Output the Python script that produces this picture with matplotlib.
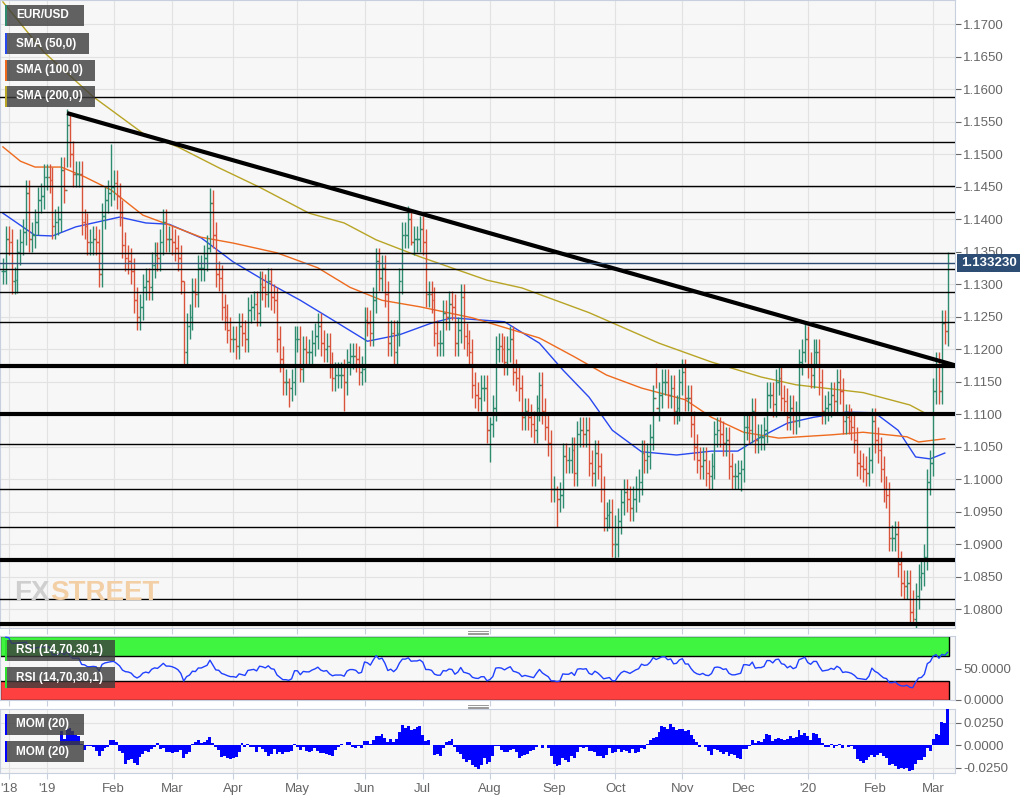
import matplotlib
matplotlib.use("Agg")
import matplotlib.pyplot as plt
from matplotlib.patches import Rectangle
import numpy as np
import pandas as pd

plt.rcParams["font.family"] = ["Liberation Sans", "DejaVu Sans"]

# daily closes
close_2018_12 = [1.1320, 1.1370, 1.1365, 1.1305, 1.1307, 1.1350, 1.1365, 1.1380, 1.1440, 1.1370,
                 1.1375, 1.1395, 1.1430, 1.1435, 1.1465]
close_2019_01 = [1.1465, 1.1460, 1.1390, 1.1395, 1.1400, 1.1475, 1.1445, 1.1545, 1.1500, 1.1470,
                 1.1470, 1.1470, 1.1395, 1.1390, 1.1365, 1.1365, 1.1370, 1.1365, 1.1315, 1.1405,
                 1.1430, 1.1440, 1.1450]
close_2019_02 = [1.1455, 1.1435, 1.1410, 1.1360, 1.1340, 1.1335, 1.1320, 1.1275, 1.1250, 1.1265,
                 1.1295, 1.1305, 1.1295, 1.1330, 1.1345, 1.1340, 1.1365, 1.1395, 1.1370, 1.1370]
close_2019_03 = [1.1365, 1.1355, 1.1340, 1.1305, 1.1195, 1.1235, 1.1250, 1.1290, 1.1285, 1.1325,
                 1.1325, 1.1340, 1.1355, 1.1425, 1.1375, 1.1315, 1.1310, 1.1265, 1.1250, 1.1230,
                 1.1215]
close_2019_04 = [1.1215, 1.1205, 1.1235, 1.1225, 1.1215, 1.1260, 1.1265, 1.1270, 1.1255, 1.1300,
                 1.1295, 1.1285, 1.1305, 1.1280, 1.1275, 1.1215, 1.1185, 1.1150, 1.1150, 1.1140,
                 1.1150, 1.1215]
close_2019_05 = [1.1215, 1.1170, 1.1200, 1.1195, 1.1195, 1.1210, 1.1220, 1.1235, 1.1210, 1.1200,
                 1.1205, 1.1175, 1.1155, 1.1160, 1.1160, 1.1160, 1.1150, 1.1180, 1.1190, 1.1190,
                 1.1185, 1.1165, 1.1170]
close_2019_06 = [1.1245, 1.1240, 1.1225, 1.1275, 1.1335, 1.1310, 1.1325, 1.1285, 1.1210, 1.1225,
                 1.1195, 1.1225, 1.1305, 1.1375, 1.1375, 1.1400, 1.1365, 1.1370, 1.1370, 1.1385]
close_2019_07 = [1.1365, 1.1285, 1.1285, 1.1275, 1.1225, 1.1210, 1.1210, 1.1255, 1.1250, 1.1270,
                 1.1265, 1.1210, 1.1230, 1.1280, 1.1220, 1.1210, 1.1195, 1.1145, 1.1130, 1.1125,
                 1.1140, 1.1140, 1.1075]
close_2019_08 = [1.1085, 1.1110, 1.1200, 1.1205, 1.1200, 1.1180, 1.1200, 1.1215, 1.1165, 1.1155,
                 1.1140, 1.1095, 1.1105, 1.1095, 1.1085, 1.1075, 1.1110, 1.1145, 1.1105, 1.1080,
                 1.1055, 1.0985]
close_2019_09 = [1.0985, 1.0970, 1.0975, 1.1035, 1.1030, 1.1030, 1.1045, 1.1010, 1.1070, 1.1075,
                 1.1070, 1.1075, 1.1025, 1.1010, 1.1040, 1.1020, 1.0985, 1.0940, 1.0945, 1.0950,
                 1.0900]
close_2019_10 = [1.0900, 1.0935, 1.0965, 1.0980, 1.0970, 1.0955, 1.0970, 1.0985, 1.0995, 1.1040,
                 1.1030, 1.1035, 1.1065, 1.1125, 1.1110, 1.1130, 1.1150, 1.1150, 1.1130, 1.1140,
                 1.1105, 1.1110, 1.1150]
close_2019_11 = [1.1165, 1.1125, 1.1125, 1.1085, 1.1050, 1.1030, 1.1020, 1.1030, 1.1010, 1.1005,
                 1.1020, 1.1070, 1.1075, 1.1070, 1.1055, 1.1060, 1.1020, 1.1005, 1.1005, 1.1010,
                 1.1015]
close_2019_12 = [1.1080, 1.1080, 1.1075, 1.1105, 1.1060, 1.1065, 1.1065, 1.1075, 1.1130, 1.1130,
                 1.1115, 1.1150, 1.1155, 1.1125, 1.1120, 1.1095, 1.1110, 1.1090, 1.1100, 1.1180,
                 1.1195, 1.1215]
close_2020_01 = [1.1175, 1.1160, 1.1195, 1.1195, 1.1150, 1.1105, 1.1110, 1.1115, 1.1130, 1.1120,
                 1.1150, 1.1135, 1.1090, 1.1095, 1.1090, 1.1080, 1.1060, 1.1025, 1.1020, 1.1015,
                 1.1010, 1.1030, 1.1090]
close_2020_02 = [1.1060, 1.1045, 1.1015, 1.0985, 1.0975, 1.0910, 1.0910, 1.0915, 1.0870, 1.0840,
                 1.0835, 1.0840, 1.0795, 1.0785, 1.0820, 1.0850, 1.0855, 1.0880, 1.0995, 1.1025]
close_2020_03 = [1.1135, 1.1175, 1.1135, 1.1240, 1.1228, 1.13323]

# notable highs / lows (date: (high, low))
extremes = {
    "2019-01-10": (1.1570, 1.1480), "2019-01-31": (1.1515, 1.1420),
    "2019-03-07": (1.1305, 1.1176), "2019-03-20": (1.1448, 1.1350),
    "2019-04-26": (1.1155, 1.1111), "2019-05-23": (1.1185, 1.1105),
    "2019-06-25": (1.1412, 1.1360), "2019-08-01": (1.1095, 1.1027),
    "2019-09-03": (1.0990, 1.0926), "2019-10-01": (1.0945, 1.0879),
    "2019-10-21": (1.1179, 1.1140), "2019-11-29": (1.1030, 1.0981),
    "2019-12-31": (1.1239, 1.1180), "2020-02-20": (1.0830, 1.0778),
    "2020-03-09": (1.1350, 1.1205),
}

# moving averages (bar index, value)
sma50_pts = [(0, 1.1409), (11, 1.1375), (17, 1.1374), (25, 1.1388), (40, 1.1403), (49, 1.1394),
             (57, 1.1392), (68, 1.1371), (79, 1.1334), (91, 1.1302), (102, 1.1275), (113, 1.1245),
             (125, 1.1212), (136, 1.1222), (147, 1.1240), (154, 1.1248), (172, 1.1242), (184, 1.1209),
             (192, 1.1168), (201, 1.1126), (209, 1.1075), (219, 1.1042), (231, 1.1037), (243, 1.1043),
             (252, 1.1043), (260, 1.1065), (269, 1.1086), (278, 1.1095), (289, 1.1103), (299, 1.1102),
             (307, 1.1075), (313, 1.1034), (318, 1.1031), (323, 1.1040)]
sma100_pts = [(0, 1.1511), (6, 1.1489), (11, 1.1480), (20, 1.1480), (28, 1.1465), (37, 1.1445),
              (48, 1.1406), (57, 1.1391), (68, 1.1372), (79, 1.1363), (94, 1.1348), (108, 1.1325),
              (119, 1.1295), (130, 1.1275), (143, 1.1265), (161, 1.1248), (184, 1.1217), (196, 1.1188),
              (207, 1.1160), (219, 1.1140), (234, 1.1122), (243, 1.1095), (254, 1.1072), (266, 1.1063),
              (284, 1.1068), (295, 1.1072), (310, 1.1065), (314, 1.1057), (323, 1.1062)]
sma200_pts = [(0, 1.1734), (14, 1.1657), (31, 1.1588), (48, 1.1532), (60, 1.1511), (74, 1.1479),
              (88, 1.1449), (105, 1.1409), (117, 1.1394), (128, 1.1368), (143, 1.1342), (166, 1.1306),
              (178, 1.1294), (201, 1.1256), (225, 1.1209), (243, 1.1180), (260, 1.1157), (272, 1.1145),
              (295, 1.1133), (311, 1.1114), (316, 1.1102), (323, 1.1102)]

thin_levels = [1.1588, 1.1519, 1.1451, 1.1411, 1.1348, 1.1323, 1.1288, 1.1242, 1.1054, 1.0984,
               1.0927, 1.0815]
thick_levels = [1.1174, 1.1100, 1.0875, 1.0777]
trend_start = ("2019-01-10", 1.1563)
trend_end_value = 1.1175

W, H = 1033, 799
UP, DOWN = "#2e8b6e", "#d9533b"
BG = "#f7f7f7"

close = np.array(close_2018_12 + close_2019_01 + close_2019_02 + close_2019_03 + close_2019_04
                 + close_2019_05 + close_2019_06 + close_2019_07 + close_2019_08 + close_2019_09
                 + close_2019_10 + close_2019_11 + close_2019_12 + close_2020_01 + close_2020_02
                 + close_2020_03)
n = len(close)
dates = pd.bdate_range(end="2020-03-09", periods=n)
idx = np.arange(n)
opn = np.r_[close[0], close[:-1]]
high = np.maximum(opn, close) + 0.0020
low = np.minimum(opn, close) - 0.0020
for d, (h, l) in extremes.items():
    i = dates.get_loc(pd.Timestamp(d))
    high[i], low[i] = h, l

s = pd.Series(close)
delta = s.diff()
gain = delta.clip(lower=0).ewm(alpha=1 / 14, adjust=False).mean()
loss = (-delta.clip(upper=0)).ewm(alpha=1 / 14, adjust=False).mean()
rsi = 100 - 100 / (1 + gain / loss)
mom = s - s.shift(20)

XMIN, XMAX = -1, n + 1.5


def fx(px):
    return px / W


def fy(py):
    return 1 - py / H


fig = plt.figure(figsize=(W / 100, H / 100), dpi=100)
ax = fig.add_axes([0, fy(628), fx(955), 628 / H])
ax_rsi = fig.add_axes([0, fy(700), fx(955), 64 / H], sharex=ax)
ax_mom = fig.add_axes([0, fy(773), fx(955), 64 / H], sharex=ax)

# month ticks
month_pos, month_lab = [2], ["'18"]
for i in range(1, n):
    if dates[i].month != dates[i - 1].month:
        month_pos.append(i)
        if dates[i].month == 1:
            month_lab.append("'" + dates[i].strftime("%y"))
        else:
            month_lab.append(dates[i].strftime("%b"))

for a in (ax, ax_rsi, ax_mom):
    a.set_facecolor(BG)
    a.yaxis.tick_right()
    a.tick_params(axis="y", labelsize=9.5, colors="#666666", length=4, pad=2)
    a.tick_params(axis="x", length=4, colors="#c8d0e0", labelcolor="#666666", labelsize=9.5)
    for sp in a.spines.values():
        sp.set_color("#c8d0e0")
    a.set_xticks(month_pos)
    for p in month_pos:
        a.axvline(p, color="#e2e2e2", lw=0.8, zorder=0)

ax.set_xlim(XMIN, XMAX)
ax.tick_params(axis="x", labelbottom=False)
ax_rsi.tick_params(axis="x", labelbottom=False)
ax_mom.set_xticklabels(month_lab)

# price panel
ax.set_ylim(1.1737 - 628 / 6500, 1.1737)
yt = np.arange(1.08, 1.1701, 0.005)
ax.set_yticks(yt)
ax.set_yticklabels([f"{v:.4f}" for v in yt])
for v in yt:
    ax.axhline(v, color="#e2e2e2", lw=0.8, zorder=0)

cols = np.where(close >= opn, UP, DOWN)
ax.vlines(idx, low, high, colors=cols, lw=1, zorder=3)
ax.hlines(opn, idx - 0.6, idx, colors=cols, lw=1, zorder=3)
ax.hlines(close, idx, idx + 0.6, colors=cols, lw=1, zorder=3)

for pts, c in ((sma50_pts, "#2848f0"), (sma100_pts, "#ee6a1e"), (sma200_pts, "#b8a425")):
    px_, py_ = zip(*pts)
    ax.plot(px_, py_, color=c, lw=1, zorder=2)

for v in thin_levels:
    ax.axhline(v, color="black", lw=1, zorder=4)
for v in thick_levels:
    ax.axhline(v, color="black", lw=3, zorder=4)
t0 = dates.get_loc(pd.Timestamp(trend_start[0]))
ax.plot([t0, XMAX], [trend_start[1], trend_end_value], color="black", lw=3, zorder=4,
        solid_capstyle="butt")

last = close[-1]
ax.axhline(last, color="#2d4d75", lw=1, zorder=4)
ax.text(1.006, last, f"{last:.6f}", transform=ax.get_yaxis_transform(), va="center", ha="left",
        fontsize=9.5, fontweight="bold", color="white",
        bbox=dict(boxstyle="square,pad=0.25", fc="#2d4d75", ec="none"), zorder=6, clip_on=False)

fig.text(fx(14), fy(593), "FX", fontsize=20, fontweight="bold", color="#cfcfcf", va="center")
fig.text(fx(50), fy(593), "STREET", fontsize=20, fontweight="bold", color="#f3cfa6", va="center")

# rsi panel
ax_rsi.set_ylim(0, 102)
ax_rsi.set_yticks([0, 50])
ax_rsi.set_yticklabels(["0.0000", "50.0000"])
ax_rsi.add_patch(Rectangle((XMIN, 70), n - 0.5 - XMIN, 32, fc="#40f540", ec="black", lw=1, zorder=1))
ax_rsi.add_patch(Rectangle((XMIN, 0), n - 0.5 - XMIN, 30, fc="#ff4040", ec="black", lw=1, zorder=1))
ax_rsi.plot(idx, rsi, color="#2040ff", lw=1, zorder=3)

# momentum panel
ax_mom.set_ylim(-0.031, 0.0405)
ax_mom.set_yticks([-0.025, 0, 0.025])
ax_mom.set_yticklabels(["-0.0250", "0.0000", "0.0250"])
for v in (-0.025, 0.025):
    ax_mom.axhline(v, color="#e2e2e2", lw=0.8, zorder=0)
ax_mom.bar(idx, mom, width=1.0, color="#0000ff", zorder=3)

# label boxes
labels = [("EUR/USD", 5, 84, 5, UP), ("SMA (50,0)", 5, 89, 33, "#2848f0"),
          ("SMA (100,0)", 5, 95, 60, "#ee6a1e"), ("SMA (200,0)", 5, 95, 86, "#b8a425"),
          ("RSI (14,70,30,1)", 5, 115, 640, "#30e030"), ("RSI (14,70,30,1)", 5, 115, 667, "#30e030"),
          ("MOM (20)", 5, 84, 714, "#0000ff"), ("MOM (20)", 5, 84, 741, "#0000ff")]
for txt, x0, x1, y0, c in labels:
    fig.add_artist(Rectangle((fx(x0), fy(y0 + 21)), fx(x1 - x0), 21 / H, transform=fig.transFigure,
                             fc="#3c3c3c", alpha=0.8, ec="none", zorder=10))
    fig.add_artist(Rectangle((fx(x0), fy(y0 + 21)), fx(2), 21 / H, transform=fig.transFigure,
                             fc=c, ec="none", zorder=11))
    fig.text(fx(x0 + 11), fy(y0 + 10.5), txt, fontsize=8.5, fontweight="bold", color="white",
             va="center", ha="left", zorder=12)

# panel drag handles
for yy in (631, 705):
    for k in range(3):
        fig.add_artist(plt.Line2D([fx(468), fx(488)], [fy(yy + k * 1.5)] * 2, color="#888888",
                                  lw=0.6, transform=fig.transFigure))

fig.savefig("out.png", dpi=100)
plt.close(fig)
